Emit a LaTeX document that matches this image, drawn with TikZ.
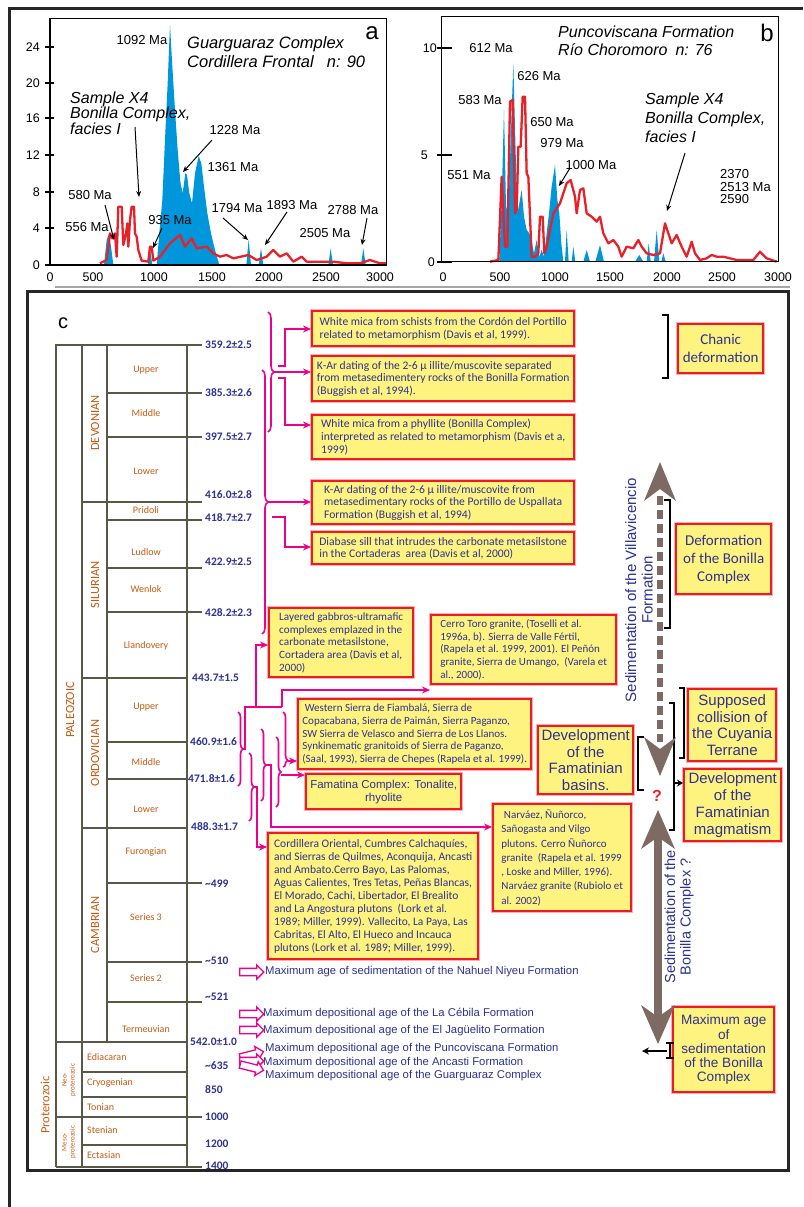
\documentclass[tikz,border=0pt]{standalone}
\usepackage{fontspec}
\setmainfont{Liberation Sans}
\newfontfamily\carl{Carlito}
\usetikzlibrary{arrows.meta,decorations.pathreplacing,shapes.arrows}
\definecolor{pk}{RGB}{236,0,140}
\definecolor{bred}{RGB}{237,28,36}
\definecolor{byel}{RGB}{255,243,128}
\definecolor{tblue}{RGB}{46,49,146}
\definecolor{tor}{RGB}{197,90,17}
\definecolor{tsg}{RGB}{88,88,72}
\definecolor{brn}{RGB}{125,106,98}
\definecolor{pblue}{RGB}{0,150,219}
\definecolor{pred}{RGB}{232,32,40}
\begin{document}
\begin{tikzpicture}[x=1pt,y=-1pt,
  ybox/.style={draw=bred, fill=byel, line width=2.4pt, preaction={draw=bred!35, line width=4.4pt}, text=tblue, anchor=north west},
  cbox/.style={ybox, align=left, inner sep=3pt, font=\carl\fontsize{11}{12.6}\selectfont},
  tbox/.style={cbox, font=\carl\fontsize{11.6}{12.7}\selectfont},
  abox/.style={ybox, align=center, inner sep=1pt, font=\fontsize{15}{16.8}\selectfont},
  plab/.style={font=\fontsize{13}{13}\selectfont, inner sep=0pt},
  axl/.style={font=\fontsize{12.5}{12.5}\selectfont, inner sep=0pt},
  parr/.style={draw=black, line width=1pt, -{Stealth[length=6pt,width=5pt]}},
  tick/.style={draw=black, line width=2.6pt},
  ts/.style={draw=tsg, line width=2.8pt},
  age/.style={font=\carl\bfseries\fontsize{11.5}{11.5}\selectfont, text=tblue, anchor=west, inner sep=0pt},
  stg/.style={font=\carl\fontsize{10}{10}\selectfont, text=tor, inner sep=0pt},
  per/.style={font=\carl\fontsize{12.5}{12.5}\selectfont, text=tor, rotate=90, inner sep=0pt},
  pkl/.style={draw=pk, line width=1.6pt},
  pka/.style={pkl, -{Stealth[length=8pt,width=7pt]}},
  pkb/.style={pkl, decorate, decoration={brace, amplitude=6pt}},
  pkc/.style={pkl, decorate, decoration={brace, amplitude=5pt}},
  blk/.style={draw=black, line width=1.6pt},
  oarr/.style={single arrow, draw=pk, fill=white, line width=1.3pt, minimum height=24pt, inner sep=3pt, single arrow head extend=3.5pt},
  btxt/.style={font=\fontsize{11.3}{11.3}\selectfont, text=tblue, anchor=west, inner sep=0pt}
]
\useasboundingbox (0,0) rectangle (803,1207);
\fill[white] (0,0) rectangle (803,1207);

% outer frame
\draw[line width=3pt, black!85] (9,1207) -- (9,9) -- (803,9);
\draw[gray!70, line width=1.5pt] (55,287) -- (790,287);

% ---------------- panel a ----------------
\begin{scope}[x=0.33333pt,y=-0.33333pt]
\fill[pblue] (312,795) -- (320,720) -- (327,700) -- (333,740) -- (340,795) -- cycle;
\fill[pblue] (444,795) -- (450,745) -- (457,795) -- cycle;
\fill[pblue] (470,795) -- (478,700) -- (487,600) -- (495,420) -- (503,250) -- (510,75) -- (517,200) -- (525,330) -- (533,450) -- (541,545) -- (548,580) -- (556,520) -- (561,525) -- (568,580) -- (576,610) -- (585,520) -- (596,468) -- (604,490) -- (612,560) -- (622,640) -- (633,700) -- (645,750) -- (658,795) -- cycle;
\fill[pblue] (739,795) -- (746,718) -- (753,795) -- cycle;
\fill[pblue] (776,795) -- (783,745) -- (790,795) -- cycle;
\fill[pblue] (985,795) -- (992,745) -- (999,795) -- cycle;
\fill[pblue] (1083,795) -- (1090,745) -- (1097,795) -- cycle;
\draw[pred, line width=2.3pt, line join=round] plot coordinates {(300,790) (320,780) (330,700) (337,715) (345,700) (350,770) (355,620) (365,620) (370,735) (378,700) (382,670) (385,740) (390,660) (395,620) (402,620) (405,700) (410,710) (415,750) (425,782) (445,785) (450,740) (455,740) (460,782) (480,770) (510,730) (540,705) (555,740) (575,715) (590,745) (620,740) (640,760) (660,770) (680,765) (700,775) (745,765) (770,780) (800,770) (820,750) (840,770) (860,760) (880,785) (905,770) (920,785) (960,785) (1000,785) (1040,790) (1080,790) (1110,780) (1140,790) (1160,790)};
\draw[black, line width=1.2pt] (150,55) rectangle (1160,795);
\end{scope}
\foreach \v/\yy in {24/47,20/83,16/118,12/155,8/192,4/228,0/265}{
  \draw[tick] (45,\yy) -- (54,\yy);
  \node[axl, anchor=east] (ya\v) at (40,\yy) {\v};
}
\foreach \v/\xx in {0/50,500/93,1000/154,1500/212,2000/269,2500/326,3000/380}{
  \node[axl] (xa\v) at (\xx,277) {\v};
}
\node[font=\fontsize{24}{24}\selectfont, inner sep=0pt] (a) at (372,33) {a};
\node[font=\itshape\fontsize{16.5}{19}\selectfont, anchor=west, align=left, inner sep=0pt] (ta) at (187,52) {Guarguaraz Complex\\Cordillera Frontal\hspace{0.8em}n: 90};
\node[font=\itshape\fontsize{16}{15.5}\selectfont, anchor=west, align=left, inner sep=0pt] (xa) at (70,113) {Sample X4\\Bonilla Complex,\\facies I};
\node[plab] (l1092) at (142,40) {1092 Ma};
\node[plab] (l1228) at (235,130) {1228 Ma};
\node[plab] (l1361) at (233,167) {1361 Ma};
\node[plab] (l580) at (90,195) {580 Ma};
\node[plab] (l556) at (87,227) {556 Ma};
\node[plab] (l935) at (170,220) {935 Ma};
\node[plab] (l1794) at (237,208) {1794 Ma};
\node[plab] (l1893) at (292,205) {1893 Ma};
\node[plab] (l2505) at (325,233) {2505 Ma};
\node[plab] (l2788) at (353,210) {2788 Ma};
\coordinate (pa1) at (135,127); \coordinate (pa2) at (139,197);
\coordinate (pb1) at (212,140); \coordinate (pb2) at (183,172);
\coordinate (pc1) at (105,205); \coordinate (pc2) at (114,240);
\coordinate (pd1) at (162,228); \coordinate (pd2) at (153,248);
\coordinate (pe1) at (223,218); \coordinate (pe2) at (248,240);
\coordinate (pf1) at (287,212); \coordinate (pf2) at (265,245);
\coordinate (pg1) at (367,218); \coordinate (pg2) at (362,245);
\draw[parr] (pa1) -- (pa2);
\draw[parr] (pb1) -- (pb2);
\draw[parr] (pc1) -- (pc2);
\draw[parr] (pd1) -- (pd2);
\draw[parr] (pe1) -- (pe2);
\draw[parr] (pf1) -- (pf2);
\draw[parr] (pg1) -- (pg2);

% ---------------- panel b ----------------
\begin{scope}[xshift=400pt, x=0.33333pt,y=-0.33333pt]
\fill[pblue] (298,785) -- (305,600) -- (312,330) -- (318,620) -- (325,640) -- (332,420) -- (340,190) -- (346,420) -- (352,640) -- (358,610) -- (365,570) -- (372,650) -- (380,690) -- (388,700) -- (395,725) -- (402,760) -- (410,720) -- (418,770) -- (425,750) -- (432,770) -- (440,700) -- (447,640) -- (455,560) -- (465,495) -- (472,600) -- (478,640) -- (484,730) -- (490,785) -- cycle;
\fill[pblue] (495,785) -- (500,690) -- (506,785) -- cycle;
\fill[pblue] (515,785) -- (520,740) -- (526,785) -- cycle;
\fill[pblue] (550,785) -- (560,750) -- (570,785) -- cycle;
\fill[pblue] (586,785) -- (600,735) -- (612,785) -- cycle;
\fill[pblue] (705,785) -- (718,765) -- (730,785) -- cycle;
\fill[pblue] (740,785) -- (746,730) -- (752,785) -- cycle;
\fill[pblue] (762,785) -- (770,690) -- (778,785) -- cycle;
\fill[pblue] (784,785) -- (790,760) -- (797,785) -- cycle;
\draw[pred, line width=2.3pt, line join=round] plot coordinates {(270,785) (295,780) (305,530) (315,740) (322,740) (330,305) (338,300) (345,640) (350,630) (355,440) (362,440) (368,290) (375,290) (380,520) (385,530) (395,770) (405,770) (415,760) (420,650) (428,650) (433,760) (440,740) (460,640) (480,610) (500,550) (512,540) (525,590) (530,640) (540,570) (550,565) (560,640) (575,650) (590,665) (600,650) (610,700) (625,730) (640,720) (655,740) (665,770) (680,740) (700,745) (715,720) (725,740) (740,760) (760,765) (780,760) (795,670) (805,700) (815,730) (830,705) (845,740) (860,770) (875,725) (885,760) (900,780) (920,775) (935,765) (950,770) (970,770) (990,775) (1010,780) (1060,780) (1080,755) (1100,775) (1130,785)};
\draw[black, line width=1.2pt] (125,50) rectangle (1135,785);
\end{scope}
\draw[tick] (437,48) -- (452,48);
\draw[tick] (437,155) -- (452,155);
\draw[tick] (437,262) -- (452,262);
\node[axl, anchor=east] (yb10) at (437,48) {10};
\node[axl, anchor=east] (yb5) at (428,155) {5};
\node[axl, anchor=east] (yb0) at (435,262) {0};
\foreach \v/\xx in {0/443,500/500,1000/555,1500/610,2000/667,2500/722,3000/778}{
  \node[axl] (xb\v) at (\xx,277) {\v};
}
\node[font=\fontsize{24}{24}\selectfont, inner sep=0pt] (b) at (767,33) {b};
\node[font=\itshape\fontsize{16}{18}\selectfont, anchor=west, align=left, inner sep=0pt] (tb) at (558,41) {Puncoviscana Formation\\Río Choromoro\hspace{0.5em}n: 76};
\node[font=\itshape\fontsize{16}{19}\selectfont, anchor=west, align=left, inner sep=0pt] (xb) at (645,118) {Sample X4\\Bonilla Complex,\\facies I};
\node[plab] (m612) at (491,48) {612 Ma};
\node[plab] (m626) at (539,76) {626 Ma};
\node[plab] (m583) at (480,100) {583 Ma};
\node[plab] (m650) at (552,122) {650 Ma};
\node[plab] (m979) at (562,143) {979 Ma};
\node[plab] (m1000) at (591,165) {1000 Ma};
\node[plab] (m551) at (469,175) {551 Ma};
\node[font=\fontsize{13}{12.5}\selectfont, anchor=west, align=left, inner sep=0pt] (m2370) at (720,187) {2370\\2513 Ma\\2590};
\coordinate (qa1) at (570,168); \coordinate (qa2) at (559,186);
\coordinate (qb1) at (685,153); \coordinate (qb2) at (667,211);
\draw[parr] (qa1) -- (qa2);
\draw[parr] (qb1) -- (qb2);

% ---------------- panel c ----------------
\draw[line width=3pt, black!85] (27,291) rectangle (788,1170);
\node[font=\fontsize{20}{20}\selectfont, inner sep=0pt] (c) at (63,323) {c};

% time scale grid
\draw[ts] (56,1167) -- (56,345) -- (202,345);
\draw[ts] (82,345) -- (82,1167);
\draw[ts] (107,345) -- (107,1042);
\draw[ts] (187,345) -- (187,1167);
\draw[ts] (107,393) -- (202,393);
\draw[ts] (107,437) -- (202,437);
\draw[ts] (82,502) -- (202,502);
\draw[ts] (107,520) -- (202,520);
\draw[ts] (107,568) -- (202,568);
\draw[ts] (107,612) -- (202,612);
\draw[ts] (82,678) -- (187,678);
\draw[ts] (107,742) -- (187,742);
\draw[ts] (107,779) -- (187,779);
\draw[ts] (82,828) -- (187,828);
\draw[ts] (107,883) -- (202,883);
\draw[ts] (107,962) -- (202,962);
\draw[ts] (107,1002) -- (202,1002);
\draw[ts] (56,1042) -- (187,1042);
\draw[ts] (82,1072) -- (187,1072);
\draw[ts] (82,1097) -- (187,1097);
\draw[ts] (56,1117) -- (202,1117);
\draw[ts] (82,1145) -- (187,1145);
\draw[ts] (56,1167) -- (202,1167);

% ages
\node[age] (g1) at (205,345) {359.2±2.5};
\node[age] (g2) at (205,393) {385.3±2.6};
\node[age] (g3) at (205,437) {397.5±2.7};
\node[age] (g4) at (205,495) {416.0±2.8};
\node[age] (g5) at (205,518) {418.7±2.7};
\node[age] (g6) at (205,562) {422.9±2.5};
\node[age] (g7) at (205,613) {428.2±2.3};
\node[age] (g8) at (192,678) {443.7±1.5};
\node[age] (g9) at (190,742) {460.9±1.6};
\node[age] (g10) at (188,779) {471.8±1.6};
\node[age] (g11) at (191,827) {488.3±1.7};
\node[age] (g12) at (205,884) {\textasciitilde499};
\node[age] (g13) at (205,961) {\textasciitilde510};
\node[age] (g14) at (205,997) {\textasciitilde521};
\node[age] (g15) at (190,1042) {542.0±1.0};
\node[age] (g16) at (205,1066) {\textasciitilde635};
\node[age] (g17) at (205,1090) {850};
\node[age] (g18) at (205,1117) {1000};
\node[age] (g19) at (205,1144) {1200};
\node[age] (g20) at (205,1166) {1400};

% stage names
\node[stg] (s1) at (146,370) {Upper};
\node[stg] (s2) at (146,413) {Middle};
\node[stg] (s3) at (146,471) {Lower};
\node[stg] (s4) at (146,510) {Pridoli};
\node[stg] (s5) at (146,552) {Ludlow};
\node[stg] (s6) at (146,589) {Wenlok};
\node[stg] (s7) at (146,646) {Llandovery};
\node[stg] (s8) at (146,707) {Upper};
\node[stg] (s9) at (146,762) {Middle};
\node[stg] (s10) at (146,809) {Lower};
\node[stg] (s11) at (146,852) {Furongian};
\node[stg] (s12) at (146,917) {Series 3};
\node[stg] (s13) at (146,978) {Series 2};
\node[stg] (s14) at (146,1029) {Termeuvian};
\node[stg, anchor=west] (s15) at (87,1057) {Ediacaran};
\node[stg, anchor=west] (s16) at (87,1083) {Cryogenian};
\node[stg, anchor=west] (s17) at (87,1107) {Tonian};
\node[stg, anchor=west] (s18) at (87,1130) {Stenian};
\node[stg, anchor=west] (s19) at (87,1155) {Ectasian};

% periods / eras
\node[per] (pdev) at (95,423) {DEVONIAN};
\node[per] (psil) at (95,585) {SILURIAN};
\node[per] (pord) at (95,753) {ORDOVICIAN};
\node[per] (pcam) at (95,925) {CAMBRIAN};
\node[per] (ppal) at (70,710) {PALEOZOIC};
\node[per] (ppro) at (45,1105) {Proterozoic};
\node[per, align=center, font=\carl\fontsize{7}{8}\selectfont] (pneo) at (69,1080) {Neo-\\proterozoic};
\node[per, align=center, font=\carl\fontsize{7}{8}\selectfont] (pmes) at (69,1142) {Meso-\\proterozoic};

% ---------------- boxes ----------------
\node[tbox, minimum width=262pt, minimum height=35pt] (B1) at (311,310) {White mica from schists from the Cordón del Portillo\\related to metamorphism (Davis et al, 1999).};
\node[tbox, minimum width=262pt, minimum height=45pt] (B2) at (311,355) {K-Ar dating of the 2-6 µ illite/muscovite separated\\from metasedimentery rocks of the Bonilla Formation\\(Buggish et al, 1994).};
\node[tbox, minimum width=262pt, minimum height=44pt] (B3) at (311,414) {White mica from a phyllite (Bonilla Complex)\\interpreted as related to metamorphism (Davis et a,\\1999)};
\node[tbox, minimum width=262pt, minimum height=43pt] (B4) at (311,480) {K-Ar dating of the 2-6 µ illite/muscovite from\\metasedimentary rocks of the Portillo de Uspallata\\Formation (Buggish et al, 1994)};
\node[tbox, minimum width=262pt, minimum height=32pt] (B5) at (311,531) {Diabase sill that intrudes the carbonate metasilstone\\in the Cortaderas\ \ area (Davis et al, 2000)};
\node[cbox, font=\carl\fontsize{11.2}{12.8}\selectfont, minimum width=144pt, minimum height=69pt] (B6) at (268,607) {Layered gabbros-ultramafic\\complexes emplazed in the\\carbonate metasilstone,\\Cortadera area (Davis et al,\\2000)};
\node[cbox, minimum width=185pt, minimum height=69pt] (B7) at (430,614) {Cerro Toro granite, (Toselli et al.\\1996a, b). Sierra de Valle Fértil,\\(Rapela et al. 1999, 2001). El Peñón\\granite, Sierra de Umango,\ \ (Varela et\\al., 2000).};
\node[cbox, minimum width=233pt, minimum height=70pt] (B8) at (297,698) {\ Western Sierra de Fiambalá, Sierra de\\Copacabana, Sierra de Paimán, Sierra Paganzo,\\SW Sierra de Velasco and Sierra de Los Llanos.\\Synkinematic granitoids of Sierra de Paganzo,\\(Saal, 1993), Sierra de Chepes (Rapela et al. 1999).};
\node[ybox, align=center, inner sep=2pt, font=\fontsize{11.5}{13.3}\selectfont, minimum width=155pt, minimum height=35pt] (B9) at (305,773) {Famatina Complex: Tonalite,\\rhyolite};
\node[abox, minimum width=95pt, minimum height=68pt] (B10) at (537,725) {Development\\of the\\Famatinian\\basins.};
\node[cbox, font=\carl\fontsize{11}{14.3}\selectfont, minimum width=138pt, minimum height=107pt] (B11) at (492,803) {\ Narváez, Ñuñorco,\\Sañogasta and Vilgo\\plutons. Cerro Ñuñorco\\granite\ \ (Rapela et al. 1999\\, Loske and Miller, 1996).\\Narváez granite (Rubiolo et\\al. 2002)};
\node[cbox, font=\carl\fontsize{11.5}{13}\selectfont, minimum width=210pt, minimum height=126pt] (B12) at (267,832) {Cordillera Oriental, Cumbres Calchaquíes,\\and Sierras de Quilmes, Aconquija, Ancasti\\and Ambato.Cerro Bayo, Las Palomas,\\Aguas Calientes, Tres Tetas, Peñas Blancas,\\El Morado, Cachi, Libertador, El Brealito\\and La Angostura plutons\ \ (Lork et al.\\1989; Miller, 1999). Vallecito, La Paya, Las\\Cabritas, El Alto, El Hueco and Incauca\\plutons (Lork et al. 1989; Miller, 1999).};
\node[ybox, align=center, inner sep=1pt, font=\carl\fontsize{15}{18}\selectfont, minimum width=85pt, minimum height=49pt] (B13) at (677,323) {Chanic\\deformation};
\node[ybox, align=center, inner sep=1pt, font=\carl\fontsize{15}{18}\selectfont, minimum width=95pt, minimum height=70pt] (B14) at (675,523) {Deformation\\of the Bonilla\\Complex};
\node[abox, minimum width=88pt, minimum height=72pt] (B15) at (687,688) {Supposed\\collision of\\the Cuyania\\Terrane};
\node[abox, minimum width=97pt, minimum height=72pt] (B16) at (683,768) {Development\\of the\\Famatinian\\magmatism};
\node[abox, font=\fontsize{13.6}{14.2}\selectfont, minimum width=101pt, minimum height=85pt] (B17) at (672,1006) {Maximum age\\of\\sedimentation\\of the Bonilla\\Complex};

% ---------------- pink connectors (upper) ----------------
\draw[pkb] (268,312) -- (268,432);
\coordinate (u1) at (274,372);
\draw[pka] (u1) -- (u1 -| B2.west);
\coordinate (u2) at (278,366); \coordinate (u3) at (285,366); \coordinate (u4) at (285,329);
\draw[pka] (u2) -- (u3) -- (u4) -- (u4 -| B1.west);
\coordinate (u5) at (278,378); \coordinate (u6) at (285,378); \coordinate (u7) at (285,425);
\draw[pka] (u5) -- (u6) -- (u7) -- (u7 -| B3.west);
\draw[pkb] (262,370) -- (262,634);
\coordinate (v1) at (268,502);
\draw[pka] (v1) -- (v1 -| B4.west);
\coordinate (v2) at (272,517); \coordinate (v3) at (285,517); \coordinate (v4) at (285,547);
\draw[pka] (v2) -- (v3) -- (v4) -- (v4 -| B5.west);

% ---------------- pink connectors (lower) ----------------
\draw[pkc] (238,712) -- (238,786);
\coordinate (m1) at (243,749); \coordinate (m2) at (245,749); \coordinate (m3) at (245,707);
\coordinate (m4) at (256,707); \coordinate (m5) at (256,645);
\coordinate (m6) at (282,707); \coordinate (m7) at (282,690);
\draw[pkl] (m1) -- (m2) -- (m3) -- (m6);
\draw[pka] (m4) -- (m5) -- (m5 -| B6.west);
\draw[pka] (m6) -- (m7) -- (m7 -| B7.west);
\draw[pkc] (249,753) -- (249,821);
\coordinate (n1) at (254,787); \coordinate (n2) at (257,787); \coordinate (n3) at (257,847);
\draw[pka] (n1) -- (n2) -- (n3) -- (n3 -| B12.west);
\draw[pkc] (261,729) -- (261,801);
\coordinate (o1) at (266,765); \coordinate (o2) at (271,765); \coordinate (o3) at (271,827);
\draw[pka] (o1) -- (o2) -- (o3) -- (o3 -| B11.west);
\draw[pkc] (276,737) -- (276,807);
\coordinate (r1) at (281,775);
\draw[pka] (r1) -- (r1 -| B9.west);
\draw[pkl, decorate, decoration={brace, amplitude=5pt, aspect=0.88}] (283,712) -- (283,767);
\coordinate (r2) at (288,761);
\draw[pka] (r2) -- (r2 -| B8.west);

% ---------------- open pink arrows and texts ----------------
\node[oarr] (oa1) at (250,972) {};
\node[oarr] (oa2) at (250,1014) {};
\node[oarr] (oa3) at (250,1030) {};
\node[oarr, rotate=14] (oa4) at (250,1055) {};
\node[oarr] (oa5) at (250,1061) {};
\node[oarr, rotate=-14] (oa6) at (250,1067) {};
\node[btxt] (t1) at (265,972) {Maximum age of sedimentation of the Nahuel Niyeu Formation};
\node[btxt] (t2) at (263,1013) {Maximum depositional age of the La Cébila Formation};
\node[btxt] (t3) at (263,1031) {Maximum depositional age of the El Jagüelito Formation};
\node[btxt] (t4) at (265,1049) {Maximum depositional age of the Puncoviscana Formation};
\node[btxt] (t5) at (263,1063) {Maximum depositional age of the Ancasti Formation};
\node[btxt] (t6) at (265,1076) {Maximum depositional age of the Guarguaraz Complex};

% ---------------- right side: brackets, arrows ----------------
\draw[blk] (662,315) -- (668,315) -- (668,378) -- (662,378);
\draw[blk] (664,500) -- (670,500) -- (670,628) -- (664,628);
\draw[blk] (644,737) -- (638,737) -- (638,790) -- (644,790);
\draw[blk] (679,688) -- (684,688) -- (684,758) -- (679,758);
\draw[blk] (669,703) -- (674,703) -- (674,830) -- (669,830);
\coordinate (w1) at (674,783); \coordinate (w2) at (683,783);
\draw[draw=black, line width=1.2pt, -{Stealth[length=6pt,width=7pt]}] (w1) -- (w2);
\draw[blk] (666,1043) -- (670,1043) -- (670,1058) -- (666,1058);
\draw[blk] (670,1043) -- (674,1043);
\draw[blk] (670,1058) -- (674,1058);
\coordinate (w3) at (667,1051); \coordinate (w4) at (642,1051);
\draw[draw=black, line width=1.8pt, -{Stealth[length=7pt,width=7pt]}] (w3) -- (w4);

% dashed double arrow (Villavicencio)
\coordinate (d1) at (660,496); \coordinate (d2) at (660,742);
\draw[brn, line width=6.5pt, dash pattern=on 9pt off 5pt] (d1) -- (d2);
\fill[brn] (660,462) -- (676,501) -- (660,489) -- (644,501) -- cycle;
\fill[brn] (660,776) -- (676,737) -- (660,749) -- (644,737) -- cycle;
% solid double arrow (Bonilla)
\coordinate (e1) at (658,836); \coordinate (e2) at (658,1017);
\draw[brn, line width=8pt] (e1) -- (e2);
\fill[brn] (658,810) -- (675,849) -- (658,837) -- (641,849) -- cycle;
\fill[brn] (658,1044) -- (675,1005) -- (658,1017) -- (641,1005) -- cycle;
\node[text=pred, font=\bfseries\fontsize{16}{16}\selectfont, inner sep=0pt] (q) at (657,796) {?};

\node[rotate=90, align=center, text=tblue, font=\fontsize{15}{16.7}\selectfont, inner sep=0pt] (sv) at (639,590) {Sedimentation of the Villavicencio\\Formation};
\node[rotate=90, align=center, text=tblue, font=\fontsize{14.5}{15.5}\selectfont, inner sep=0pt] (sb) at (679,917) {Sedimentation of the\\Bonilla Complex ?};
\end{tikzpicture}
\end{document}
